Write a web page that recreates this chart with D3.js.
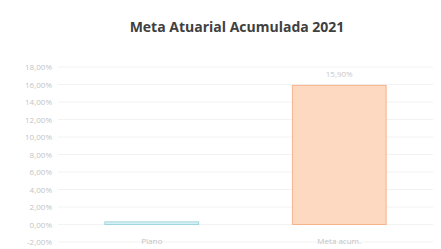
<!DOCTYPE html>
<html>
<head>
<meta charset="utf-8">
<script src="https://d3js.org/d3.v7.min.js"></script>
<style>
  body { margin: 0; background: #fff; }
  text { font-family: "Open Sans", "Liberation Sans", sans-serif; }
</style>
</head>
<body>
<div id="chart"></div>
<script>
var categories = ['Plano', 'Meta acum.'];
var values = [0.3, 15.9];
var valueLabels = ['', '15,90%'];
var yTicks = [-2, 0, 2, 4, 6, 8, 10, 12, 14, 16, 18];

function drawChart() {
  var width = 441, height = 249;
  var margins = { left: 58, right: 8, top: 67, bottom: 7 };
  var frameWidth = width - margins.left - margins.right;
  var frameHeight = height - margins.top - margins.bottom;

  var svg = d3.select('#chart').append('svg')
    .attr('width', width)
    .attr('height', height);

  svg.append('text')
    .attr('x', 237)
    .attr('y', 32)
    .attr('text-anchor', 'middle')
    .attr('font-size', 14)
    .attr('font-weight', 'bold')
    .attr('fill', '#404040')
    .text('Meta Atuarial Acumulada 2021');

  var g = svg.append('g')
    .attr('transform', 'translate(' + margins.left + ',' + margins.top + ')');

  var xScale = d3.scaleBand()
    .domain(categories)
    .range([0, frameWidth])
    .paddingInner(0.5)
    .paddingOuter(0.25);

  var yScale = d3.scaleLinear()
    .domain([-2, 18])
    .range([frameHeight, 0]);

  // grid
  g.append('g')
    .selectAll('line')
    .data(yTicks)
    .join('line')
      .attr('x1', 0)
      .attr('x2', frameWidth)
      .attr('y1', function(d) { return yScale(d); })
      .attr('y2', function(d) { return yScale(d); })
      .attr('stroke', '#f2f2f2')
      .attr('stroke-width', 1);

  var yAxis = d3.axisLeft(yScale)
    .tickValues(yTicks)
    .tickSize(0)
    .tickPadding(6)
    .tickFormat(function(d) { return d.toFixed(2).replace('.', ',') + '%'; });

  g.append('g')
    .call(yAxis)
    .call(function(s) { s.select('.domain').remove(); })
    .selectAll('text')
      .attr('font-size', 8)
      .attr('fill', '#c4c4c4');

  var colors = [
    { fill: '#d6f1f5', stroke: '#9fd6e0' },
    { fill: '#fcd9c0', stroke: '#f5b58c' }
  ];

  g.selectAll('rect.bar')
    .data(values)
    .join('rect')
      .attr('class', 'bar')
      .attr('x', function(d, i) { return xScale(categories[i]); })
      .attr('width', xScale.bandwidth())
      .attr('y', function(d) { return yScale(Math.max(d, 0)); })
      .attr('height', function(d) { return Math.abs(yScale(d) - yScale(0)); })
      .attr('fill', function(d, i) { return colors[i].fill; })
      .attr('stroke', function(d, i) { return colors[i].stroke; })
      .attr('stroke-width', 1);

  g.selectAll('text.value')
    .data(values)
    .join('text')
      .attr('class', 'value')
      .attr('x', function(d, i) { return xScale(categories[i]) + xScale.bandwidth() / 2; })
      .attr('y', function(d) { return yScale(d) - 8; })
      .attr('text-anchor', 'middle')
      .attr('font-size', 8)
      .attr('fill', '#c8c8c8')
      .text(function(d, i) { return valueLabels[i]; });

  g.selectAll('text.cat')
    .data(categories)
    .join('text')
      .attr('class', 'cat')
      .attr('x', function(d) { return xScale(d) + xScale.bandwidth() / 2; })
      .attr('y', yScale(0) + 19)
      .attr('text-anchor', 'middle')
      .attr('font-size', 8)
      .attr('fill', '#c4c4c4')
      .text(function(d) { return d; });
}

drawChart();
</script>
</body>
</html>
